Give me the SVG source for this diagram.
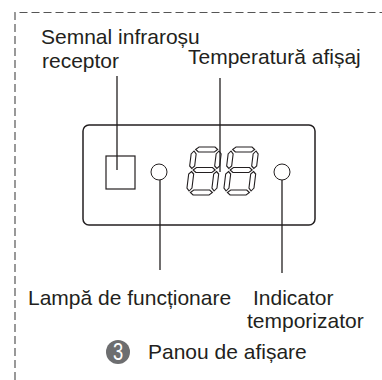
<svg xmlns="http://www.w3.org/2000/svg" width="382" height="380" viewBox="0 0 382 380">
<defs>
<style>
.t{font-family:"Liberation Sans",Arial,sans-serif;font-size:21px;fill:#231f20}
.ln{stroke:#231f20;stroke-width:1.3;fill:none}
.seg{fill:#fff;stroke:#231f20;stroke-width:1.1}
.frame{stroke:#555;stroke-width:1.2;fill:none;stroke-dasharray:8 4}
</style>
<g id="digit">
<polygon class="seg" points="4,2.5 7,0 23,0 26,2.5 23,5 7,5"/>
<polygon class="seg" points="4,23 7,20.5 23,20.5 26,23 23,25.5 7,25.5"/>
<polygon class="seg" points="4,45.5 7,43 23,43 26,45.5 23,48 7,48"/>
<polygon class="seg" points="2.5,4 5,7 5,19 2.5,21.5 0,19 0,7"/>
<polygon class="seg" points="27.5,4 30,7 30,19 27.5,21.5 25,19 25,7"/>
<polygon class="seg" points="2.5,24.5 5,27 5,41 2.5,44 0,41 0,27"/>
<polygon class="seg" points="27.5,24.5 30,27 30,41 27.5,44 25,41 25,27"/>
</g>
</defs>
<rect width="382" height="380" fill="#fff"/>
<path class="frame" d="M15,380 V12.5 H382"/>
<g id="panel">
<rect x="83" y="125" width="232" height="100" rx="6" fill="none" stroke="#231f20" stroke-width="1.5"/>
</g>
<g id="receptor">
<rect x="106" y="156" width="29" height="33" fill="none" stroke="#231f20" stroke-width="1.2"/>
</g>
<g id="lamp">
<circle cx="159" cy="172" r="8" fill="#fff" stroke="#231f20" stroke-width="1"/>
</g>
<g id="timer">
<circle cx="282" cy="172" r="8" fill="#fff" stroke="#231f20" stroke-width="1"/>
</g>
<g id="display">
<use href="#digit" transform="translate(192,147) skewX(-7)"/>
<use href="#digit" transform="translate(229,147) skewX(-7)"/>
</g>
<g id="connectors">
<line class="ln" x1="117" y1="76" x2="117" y2="170"/>
<line class="ln" x1="220" y1="78" x2="220" y2="172"/>
<line class="ln" x1="160" y1="180" x2="160" y2="270"/>
<line class="ln" x1="282" y1="180" x2="282" y2="273"/>
</g>
<g id="label-receptor">
<text class="t" x="41" y="44">Semnal infraroșu</text>
<text class="t" x="42" y="68">receptor</text>
</g>
<g id="label-temp">
<text class="t" x="188" y="64">Temperatură afișaj</text>
</g>
<g id="label-lamp">
<text class="t" x="28" y="305">Lampă de funcționare</text>
</g>
<g id="label-timer">
<text class="t" x="253" y="305">Indicator</text>
<text class="t" x="247" y="328">temporizator</text>
</g>
<g id="title">
<circle cx="118" cy="352" r="12" fill="#6d6e70"/>
<text transform="translate(118,360) scale(0.8,1)" text-anchor="middle" font-family="Liberation Sans, Arial, sans-serif" font-size="23" fill="#fff">3</text>
<text class="t" x="148" y="359">Panou de afișare</text>
</g>
</svg>
